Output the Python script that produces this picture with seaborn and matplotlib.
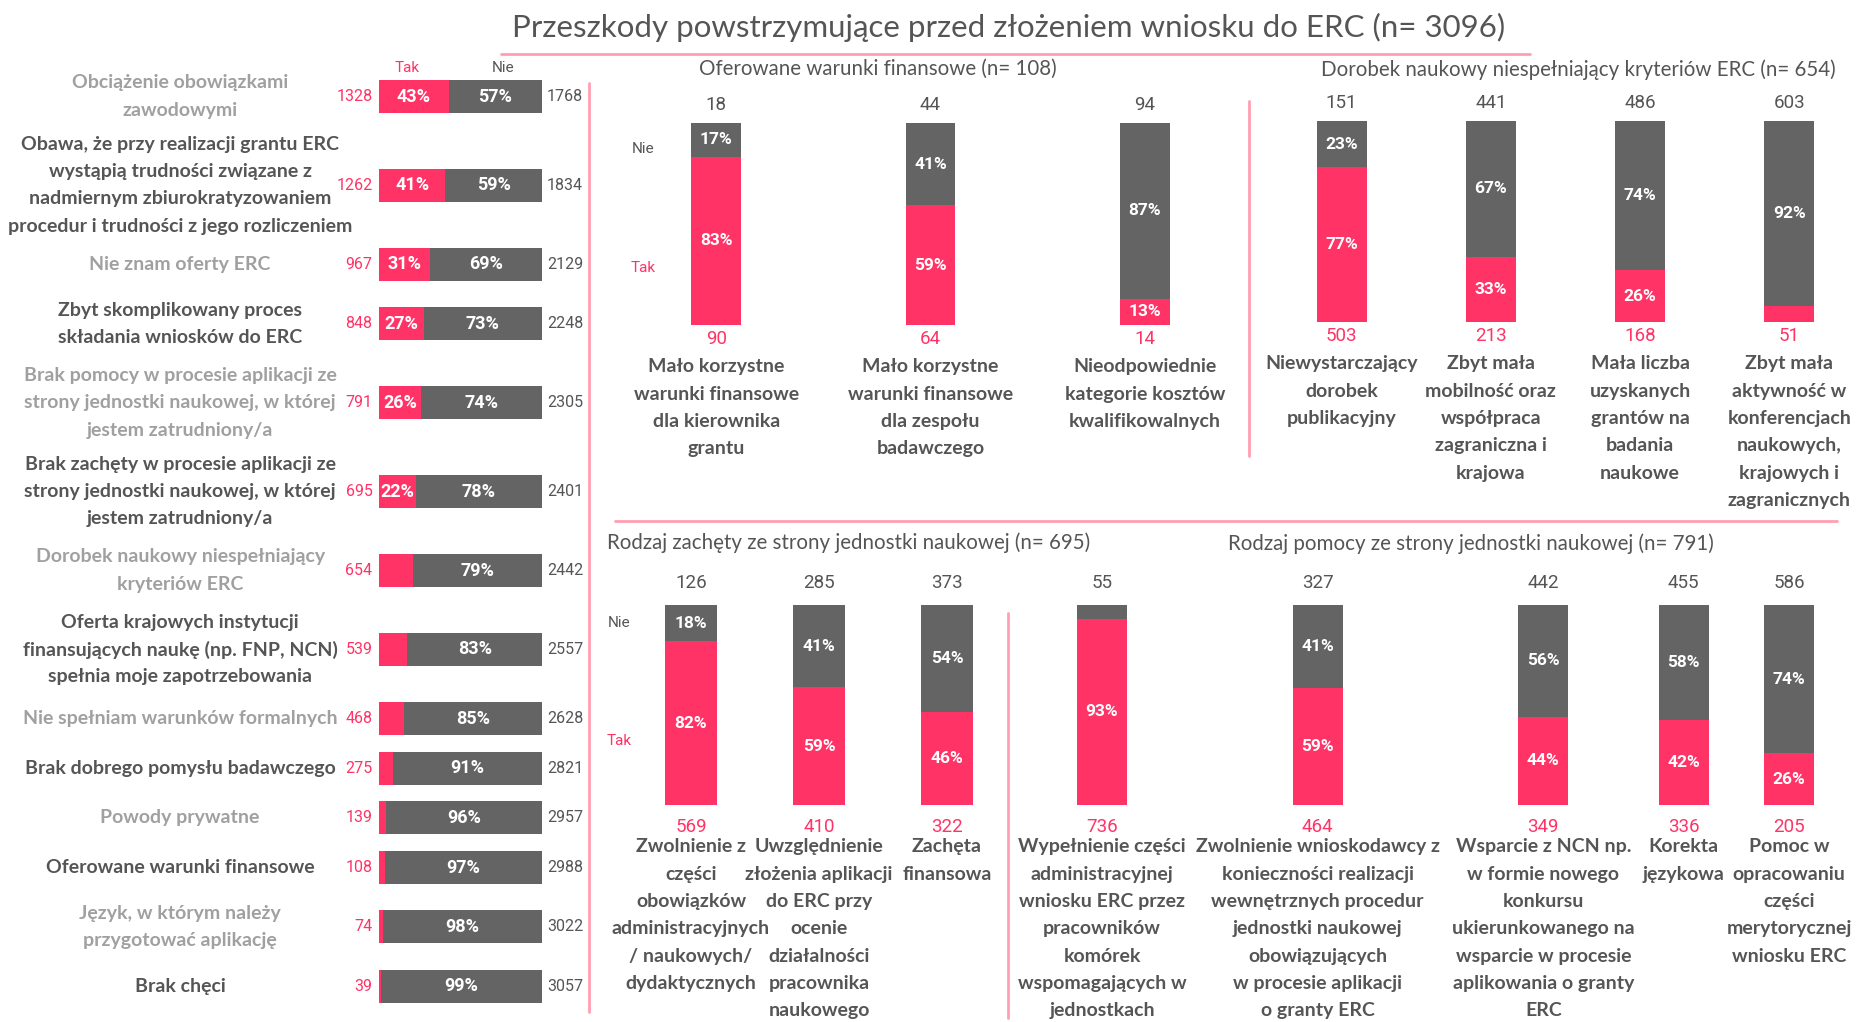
import numpy as np
import pandas as pd
import matplotlib.pyplot as plt
import seaborn as sns

# Przeszkody powstrzymujace przed zlozeniem wniosku do ERC

sns.set_theme(style='white')
plt.rcParams['font.family'] = ['Lato', 'DejaVu Sans']

PINK = '#ff3366'
DARK = '#646464'
LINE = '#ff9fb3'
TXT = '#555555'
LIGHT_TXT = '#a0a0a0'
NUM_FONT = ['Liberation Sans Narrow', 'Roboto', 'DejaVu Sans']
LAB_SIZE = 14
LINE_PT = 19.7

# *Data* (Tak / Nie counts)

reasons = [
    "Obciążenie obowiązkami\nzawodowymi",
    "Obawa, że przy realizacji grantu ERC\nwystąpią trudności związane z\nnadmiernym zbiurokratyzowaniem\nprocedur i trudności z jego rozliczeniem",
    "Nie znam oferty ERC",
    "Zbyt skomplikowany proces\nskładania wniosków do ERC",
    "Brak pomocy w procesie aplikacji ze\nstrony jednostki naukowej, w której\njestem zatrudniony/a",
    "Brak zachęty w procesie aplikacji ze\nstrony jednostki naukowej, w której\njestem zatrudniony/a",
    "Dorobek naukowy niespełniający\nkryteriów ERC",
    "Oferta krajowych instytucji\nfinansujących naukę (np. FNP, NCN)\nspełnia moje zapotrzebowania",
    "Nie spełniam warunków formalnych",
    "Brak dobrego pomysłu badawczego",
    "Powody prywatne",
    "Oferowane warunki finansowe",
    "Język, w którym należy\nprzygotować aplikację",
    "Brak chęci",
]
reasons_tak = [1328, 1262, 967, 848, 791, 695, 654, 539, 468, 275, 139, 108, 74, 39]
reasons_nie = [1768, 1834, 2129, 2248, 2305, 2401, 2442, 2557, 2628, 2821, 2957, 2988, 3022, 3057]

fin_labels = [
    "Mało korzystne\nwarunki finansowe\ndla kierownika\ngrantu",
    "Mało korzystne\nwarunki finansowe\ndla zespołu\nbadawczego",
    "Nieodpowiednie\nkategorie kosztów\nkwalifikowalnych",
]
fin_tak = [90, 64, 14]
fin_nie = [18, 44, 94]

dor_labels = [
    "Niewystarczający\ndorobek\npublikacyjny",
    "Zbyt mała\nmobilność oraz\nwspółpraca\nzagraniczna i\nkrajowa",
    "Mała liczba\nuzyskanych\ngrantów na\nbadania\nnaukowe",
    "Zbyt mała\naktywność w\nkonferencjach\nnaukowych,\nkrajowych i\nzagranicznych",
]
dor_tak = [503, 213, 168, 51]
dor_nie = [151, 441, 486, 603]

zach_labels = [
    "Zwolnienie z\nczęści\nobowiązków\nadministracyjnych\n/ naukowych/\ndydaktycznych",
    "Uwzględnienie\nzłożenia aplikacji\ndo ERC przy\nocenie\ndziałalności\npracownika\nnaukowego",
    "Zachęta\nfinansowa",
]
zach_tak = [569, 410, 322]
zach_nie = [126, 285, 373]

pom_labels = [
    "Wypełnienie części\nadministracyjnej\nwniosku ERC przez\npracowników\nkomórek\nwspomagających w\njednostkach",
    "Zwolnienie wnioskodawcy z\nkonieczności realizacji\nwewnętrznych procedur\njednostki naukowej\nobowiązujących\nw procesie aplikacji\no granty ERC",
    "Wsparcie z NCN np.\nw formie nowego\nkonkursu\nukierunkowanego na\nwsparcie w procesie\naplikowania o granty\nERC",
    "Korekta\njęzykowa",
    "Pomoc w\nopracowaniu\nczęści\nmerytorycznej\nwniosku ERC",
]
pom_tak = [736, 464, 349, 336, 205]
pom_nie = [55, 327, 442, 455, 586]

W, H = 1868, 1022
fig = plt.figure(figsize=(W / 100, H / 100), dpi=100)


def px_axes(x0, y0, x1, y1):
    # box in pixels, origin top-left
    ax = fig.add_axes([x0 / W, 1 - y1 / H, (x1 - x0) / W, (y1 - y0) / H])
    ax.set_axis_off()
    return ax


def px_line(x0, y0, x1, y1):
    fig.add_artist(plt.Line2D([x0 / W, x1 / W], [1 - y0 / H, 1 - y1 / H],
                              transform=fig.transFigure, color=LINE, lw=2))


def multiline(ax, x, y, text, first=None, **kw):
    # one text per line; first=None centres the block on y, else lines run down from y
    lines = text.split('\n')
    if first is None:
        offs = [((len(lines) - 1) / 2 - j) * LINE_PT for j in range(len(lines))]
    else:
        offs = [-(first + j * LINE_PT) for j in range(len(lines))]
    for line, dy in zip(lines, offs):
        ax.annotate(line, (x, y), xytext=(0, dy), textcoords='offset points',
                    ha='center', va='center', annotation_clip=False, **kw)


def make_df(labels, tak, nie):
    df = pd.DataFrame({'label': labels, 'tak': tak, 'nie': nie})
    df['tak_pct'] = df['tak'] / (df['tak'] + df['nie']) * 100
    df['nie_pct'] = 100 - df['tak_pct']
    df['full'] = 100.0
    return df


# *1. Left panel - horizontal stacked bars*
# row heights follow the number of lines in each label (pixel units from the top)

ax = px_axes(379, 0, 542, H)
df = make_df(reasons, reasons_tak, reasons_nie)
n_lines = np.array([lab.count('\n') + 1 for lab in reasons])
row_h = 30 + 19.6 * n_lines
df['pos'] = 96.5 + np.concatenate([[0], np.cumsum((row_h[:-1] + row_h[1:]) / 2)])
bar_w = 33 / np.diff(df['pos']).min()

sns.barplot(data=df, x='full', y='pos', orient='h', native_scale=True, color=DARK,
            saturation=1, width=bar_w, errorbar=None, linewidth=0, ax=ax)
sns.barplot(data=df, x='tak_pct', y='pos', orient='h', native_scale=True, color=PINK,
            saturation=1, width=bar_w, errorbar=None, linewidth=0, ax=ax)
ax.set_xlim(0, 100)
ax.set_ylim(H, 0)
for i, r in df.iterrows():
    y = r['pos']
    multiline(ax, -122, y, r['label'], fontsize=LAB_SIZE, fontweight='bold',
              color=LIGHT_TXT if i % 2 == 0 else TXT)
    ax.text(-4, y, f"{r['tak']}", ha='right', va='center', fontsize=11.5,
            color=PINK, family=NUM_FONT, clip_on=False)
    ax.text(103, y, f"{r['nie']}", ha='left', va='center', fontsize=11.5,
            color=TXT, family=NUM_FONT, clip_on=False)
    if r['tak_pct'] >= 22:
        ax.text(r['tak_pct'] / 2, y, f"{r['tak_pct']:.0f}%", ha='center', va='center',
                fontsize=13, fontweight='bold', color='white', family=NUM_FONT)
    ax.text(r['tak_pct'] + r['nie_pct'] / 2, y, f"{r['nie_pct']:.0f}%", ha='center',
            va='center', fontsize=13, fontweight='bold', color='white', family=NUM_FONT)
ax.text(17, 68, "Tak", ha='center', va='center', fontsize=11, color=PINK, family=NUM_FONT)
ax.text(76, 68, "Nie", ha='center', va='center', fontsize=11, color=TXT, family=NUM_FONT)


# *2. Vertical stacked bar panels*

def vbar_panel(box, labels, tak, nie, width, offs, side=None, pos=None, xlim=None):
    ax = px_axes(*box)
    df = make_df(labels, tak, nie)
    if pos is None:
        df['x'] = df['label']
        xs = np.arange(len(df))
        native = False
    else:
        df['x'] = pos
        xs = np.asarray(pos)
        native = True
    sns.barplot(data=df, x='x', y='full', color=DARK, saturation=1, native_scale=native,
                width=width, errorbar=None, linewidth=0, ax=ax)
    sns.barplot(data=df, x='x', y='tak_pct', color=PINK, saturation=1, native_scale=native,
                width=width, errorbar=None, linewidth=0, ax=ax)
    ax.set_ylim(0, 100)
    ax.set_xlim(xlim if xlim is not None else (-0.5, len(df) - 0.5))
    up, down = offs
    for i, r in df.iterrows():
        x = xs[i]
        ax.annotate(f"{r['nie']}", (x, 100), xytext=(0, up), textcoords='offset points',
                    ha='center', va='center', fontsize=13.5, color=TXT, family=NUM_FONT,
                    annotation_clip=False)
        ax.annotate(f"{r['tak']}", (x, 0), xytext=(0, down), textcoords='offset points',
                    ha='center', va='center', fontsize=13.5, color=PINK, family=NUM_FONT,
                    annotation_clip=False)
        multiline(ax, x, 0, r['label'], first=30, fontsize=LAB_SIZE, fontweight='bold',
                  color=TXT)
        if r['tak_pct'] >= 10:
            ax.text(x, r['tak_pct'] / 2, f"{r['tak_pct']:.0f}%", ha='center', va='center',
                    fontsize=12.5, fontweight='bold', color='white', family=NUM_FONT)
        if r['nie_pct'] >= 10:
            ax.text(x, r['tak_pct'] + r['nie_pct'] / 2, f"{r['nie_pct']:.0f}%", ha='center',
                    va='center', fontsize=12.5, fontweight='bold', color='white', family=NUM_FONT)
    if side is not None:
        sx, nie_y, tak_y = side
        ax.text(sx, nie_y, "Nie", ha='center', va='center', fontsize=11, color=TXT,
                family=NUM_FONT, clip_on=False)
        ax.text(sx, tak_y, "Tak", ha='center', va='center', fontsize=11, color=PINK,
                family=NUM_FONT, clip_on=False)
    return ax


vbar_panel((609, 123, 1252, 325), fin_labels, fin_tak, fin_nie, 0.233, (13, -10),
           side=(-0.34, 87, 28))
vbar_panel((1267, 121, 1864, 322), dor_labels, dor_tak, dor_nie, 0.336, (13, -10))
vbar_panel((627, 605, 1011, 805), zach_labels, zach_tak, zach_nie, 0.41, (16, -16),
           side=(-0.56, 91, 32))

# pomoc panel: bars spaced by the width of their labels
pom_len = np.array([max(len(s) for s in lab.split('\n')) for lab in pom_labels])
pom_pos = np.concatenate([[0], np.cumsum((pom_len[:-1] + pom_len[1:]) / 2)])
px_per = (1789 - 1102) / (pom_pos[-1] - pom_pos[0])
pom_xlim = (pom_pos[0] - (1102 - 1016) / px_per, pom_pos[-1] + (1876 - 1789) / px_per)
pom_w = 50 / px_per / np.diff(pom_pos).min()
vbar_panel((1016, 605, 1876, 805), pom_labels, pom_tak, pom_nie, pom_w, (16, -16),
           pos=pom_pos, xlim=pom_xlim)

# *3. Titles and divider lines*

fig.text(1009 / W, 1 - 27 / H, "Przeszkody powstrzymujące przed złożeniem wniosku do ERC (n= 3096)",
         ha='center', va='center', fontsize=22.5, color=TXT)
fig.text(878 / W, 1 - 69 / H, "Oferowane warunki finansowe (n= 108)",
         ha='center', va='center', fontsize=14.8, color=TXT)
fig.text(1578 / W, 1 - 70 / H, "Dorobek naukowy niespełniający kryteriów ERC (n= 654)",
         ha='center', va='center', fontsize=14.8, color=TXT)
fig.text(849 / W, 1 - 543 / H, "Rodzaj zachęty ze strony jednostki naukowej (n= 695)",
         ha='center', va='center', fontsize=14.8, color=TXT)
fig.text(1471 / W, 1 - 544 / H, "Rodzaj pomocy ze strony jednostki naukowej (n= 791)",
         ha='center', va='center', fontsize=14.8, color=TXT)

px_line(501, 54, 1530, 54)
px_line(589, 83, 589, 1012)
px_line(615, 521, 1837, 521)
px_line(1249, 101, 1249, 456)
px_line(1008, 613, 1008, 1018)

fig.savefig('out.png', dpi=100, facecolor='white')
